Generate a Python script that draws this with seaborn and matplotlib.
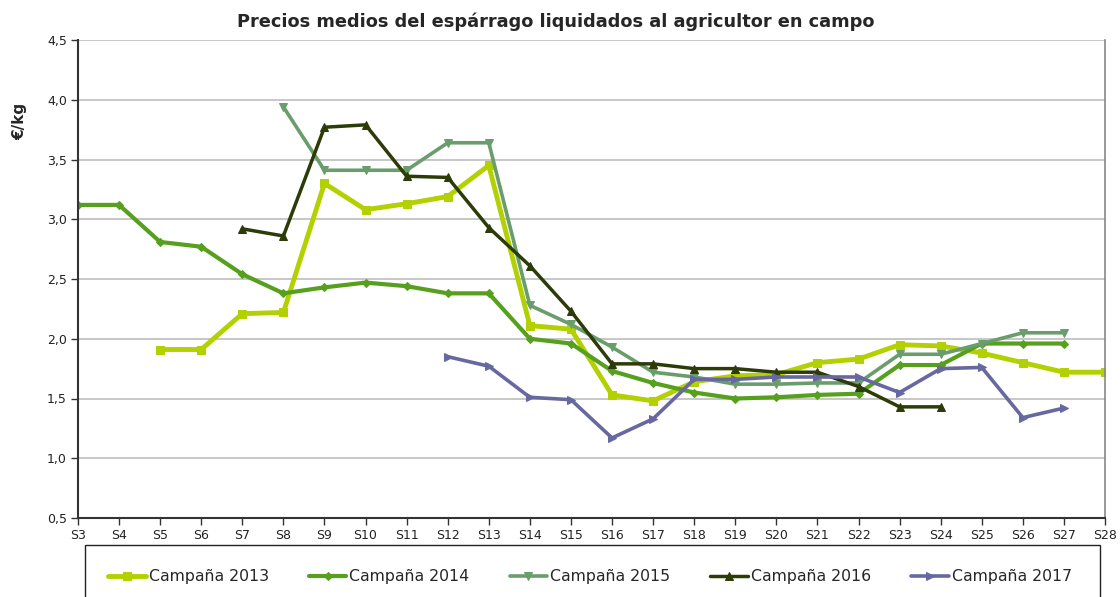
import numpy as np
import pandas as pd
import matplotlib
matplotlib.use("Agg")
import matplotlib.pyplot as plt
from matplotlib.patches import Rectangle
import seaborn as sns

weeks = [f"S{i}" for i in range(3, 29)]
nan = np.nan
c2013 = [nan, nan, 1.91, 1.91, 2.21, 2.22, 3.30, 3.08, 3.13, 3.19, 3.45, 2.11, 2.08, 1.53, 1.48, 1.64, 1.69, 1.70,
         1.80, 1.83, 1.95, 1.94, 1.88, 1.80, 1.72, 1.72]
c2014 = [3.12, 3.12, 2.81, 2.77, 2.54, 2.38, 2.43, 2.47, 2.44, 2.38, 2.38, 2.00, 1.96, 1.73, 1.63, 1.55, 1.50, 1.51,
         1.53, 1.54, 1.78, 1.78, 1.96, 1.96, 1.96, nan]
c2015 = [nan, nan, nan, nan, nan, 3.94, 3.41, 3.41, 3.41, 3.64, 3.64, 2.28, 2.12, 1.93, 1.72, 1.68, 1.62, 1.62,
         1.63, 1.63, 1.87, 1.87, 1.96, 2.05, 2.05, nan]
c2016 = [nan, nan, nan, nan, 2.92, 2.86, 3.77, 3.79, 3.36, 3.35, 2.93, 2.61, 2.23, 1.79, 1.79, 1.75, 1.75, 1.72,
         1.72, 1.60, 1.43, 1.43, nan, nan, nan, nan]
c2017 = [nan, nan, nan, nan, nan, nan, nan, nan, nan, 1.85, 1.77, 1.51, 1.49, 1.17, 1.33, 1.66, 1.66, 1.68,
         1.68, 1.68, 1.55, 1.75, 1.76, 1.34, 1.42, nan]

series = [
    ("Campaña 2013", c2013, "#b3d100", "s", 3.5, 6),
    ("Campaña 2014", c2014, "#56a01e", "D", 3.0, 4),
    ("Campaña 2015", c2015, "#6a9d6c", "v", 2.6, 6),
    ("Campaña 2016", c2016, "#2c3b08", "^", 2.5, 6),
    ("Campaña 2017", c2017, "#6868a0", ">", 2.6, 6),
]

sns.set_theme(style="white")
plt.rcParams['font.family'] = ['DejaVu Sans']

fig = plt.figure(figsize=(11.2, 5.97), dpi=100)
ax = fig.add_axes([78/1120, 1-518/597, (1105-78)/1120, (518-40)/597])

pos = np.arange(len(weeks))
for name, vals, col, mk, lw, ms in series:
    df = pd.DataFrame({"x": pos, "y": vals}).dropna()
    sns.lineplot(data=df, x="x", y="y", ax=ax, color=col, marker=mk, markersize=ms,
                 markeredgecolor=col, linewidth=lw, label=name)

ax.set_xlim(0, len(weeks)-1)
ax.set_ylim(0.5, 4.5)
ax.set_xticks(pos)
ax.set_xticklabels(weeks, fontsize=9, color="#222222")
yt = np.arange(0.5, 4.51, 0.5)
ax.set_yticks(yt)
ax.set_yticklabels([f"{v:.1f}".replace(".", ",") for v in yt], fontsize=9, color="#222222")
ax.yaxis.grid(True, color="#bdbdbd", linewidth=1.2)
ax.xaxis.grid(False)
ax.tick_params(axis="both", which="both", direction="out", length=5, width=1, color="#333333", pad=3,
               bottom=True, left=True)
ax.spines["top"].set_visible(False)
ax.spines["left"].set_color("#333333")
ax.spines["left"].set_linewidth(1.5)
ax.spines["bottom"].set_color("#333333")
ax.spines["bottom"].set_linewidth(1.5)
ax.spines["right"].set_color("#888888")
ax.spines["right"].set_linewidth(1.2)
ax.set_xlabel("")
ax.set_ylabel("€/kg", fontsize=11, fontweight="bold")
ax.yaxis.set_label_coords(-0.049, 0.83)

fig.text(0.496, 0.963, "Precios medios del espárrago liquidados al agricultor en campo",
         ha="center", va="center", fontsize=12.8, fontweight="bold")

handles, labels = ax.get_legend_handles_labels()
ax.get_legend().remove()
# legend box: top edge at y=545 px, extends below the figure
fig.patches.append(Rectangle((85/1120, -0.05), (1100-85)/1120, 1-545/597+0.05,
                             transform=fig.transFigure, fill=False, edgecolor="#222222",
                             linewidth=1.0, zorder=0))
leg = fig.legend(handles, labels, loc="center", ncol=5, mode="expand",
                 bbox_to_anchor=(100/1120, 1-577/597-0.02, (1080-100)/1120, 0.04),
                 frameon=False, fontsize=11.3,
                 handlelength=2.4, handletextpad=0.2, borderpad=0.0)

fig.savefig("out.png", dpi=100)
